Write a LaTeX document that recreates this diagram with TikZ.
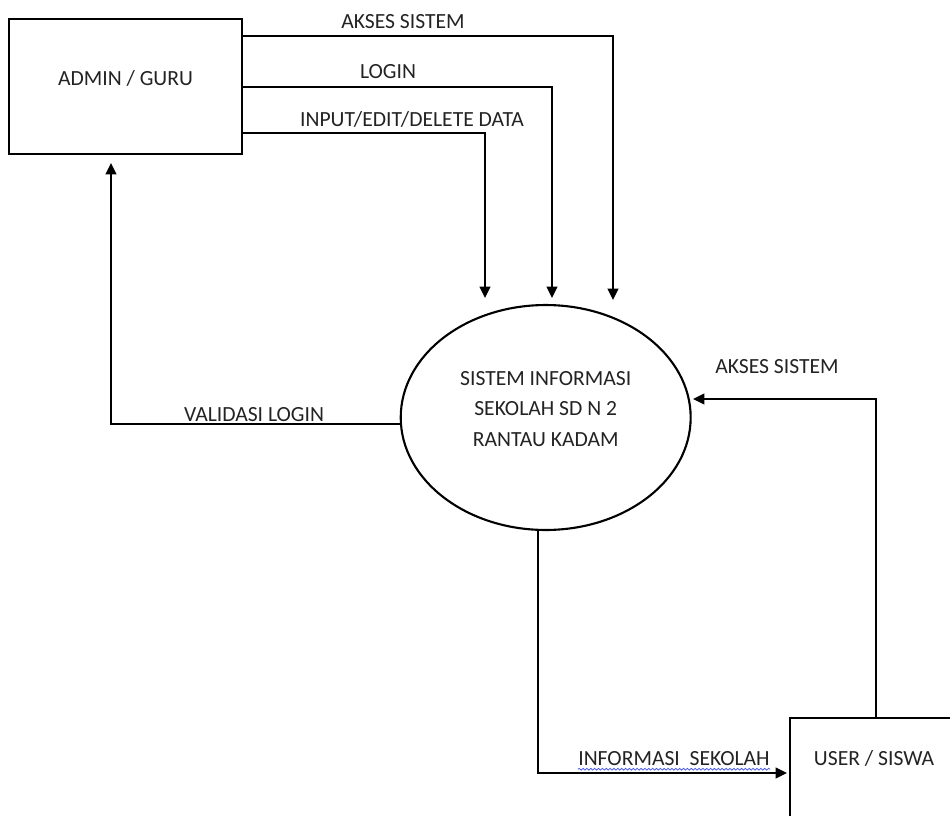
\documentclass[tikz,border=0pt]{standalone}
\usepackage{fontspec}
\setmainfont{Carlito}
\usetikzlibrary{positioning,arrows.meta,calc,shapes.geometric,decorations.pathmorphing}
\definecolor{dfdLine}{RGB}{0,0,0}
\definecolor{dfdText}{RGB}{35,35,35}
\definecolor{dfdSpell}{RGB}{70,90,230}

\begin{document}
\begin{tikzpicture}[x=0.02cm, y=-0.02cm,
  entity/.style={draw=dfdLine, line width=1.5pt, rectangle, inner sep=0pt},
  process/.style={draw=dfdLine, line width=1.2pt, ellipse, inner sep=0pt,
    minimum width=5.8cm, minimum height=4.5cm},
  flow/.style={draw=dfdLine, line width=1.5pt, -{Triangle[length=6.5pt,width=6pt]}},
  txt/.style={text=dfdText, font=\fontsize{12.3}{17.6}\selectfont, inner sep=0pt},
  spell/.style={draw=dfdSpell, line width=0.45pt, decorate,
    decoration={snake, amplitude=0.5pt, segment length=2.2pt}}]
  \useasboundingbox (0,0) rectangle (950,815);

  % Entities and process
  \node[entity, minimum width=4.66cm, minimum height=2.7cm] (admin) at (125.5,86.5) {};
  \node[txt, anchor=base] (adminText) at (125.5,85) {ADMIN / GURU};

  \node[process] (system) at (545.7,417.5) {};
  \node[txt, align=center] (systemText) at (545.7,409) {SISTEM INFORMASI\\SEKOLAH SD N 2\\RANTAU KADAM};

  \node[entity, minimum width=3.4cm, minimum height=2.2cm] (user) at (875,773) {};
  \node[txt, anchor=base] (userText) at (874,765.7) {USER / SISWA};

  % Arrow ends
  \coordinate (aksesIn) at (613,300);
  \coordinate (loginIn) at (552,298);
  \coordinate (inputIn) at (485,298);
  \coordinate (validIn) at (111,163);
  \coordinate (infoIn) at (787,773);
  \coordinate (userIn) at (693,399);

  % Flows from admin
  \draw[flow] (admin.east |- 0,36) -| (aksesIn);
  \draw[flow] (admin.east |- 0,87) -| (loginIn);
  \draw[flow] (admin.east |- 0,133) -| (inputIn);
  \node[txt, anchor=base] (lblAkses) at (403,28.3) {AKSES SISTEM};
  \node[txt, anchor=base] (lblLogin) at (388,78) {LOGIN};
  \node[txt, anchor=base] (lblInput) at (412,126.7) {INPUT/EDIT/DELETE DATA};

  % Flow back to admin
  \draw[flow] (system.west |- 0,424) -| (validIn);
  \node[txt, anchor=base] (lblValid) at (254,421.7) {VALIDASI LOGIN};

  % Flows with user
  \draw[flow] (system.south -| 538,0) |- (infoIn);
  \node[txt, anchor=base] (lblInfo) at (674,765.7) {INFORMASI\ \ SEKOLAH};
  \draw[spell] ([yshift=-2pt]lblInfo.base west) -- ([yshift=-2pt]lblInfo.base east);

  \draw[flow] (user.north -| 876,0) |- (userIn);
  \node[txt, anchor=base] (lblUser) at (777,373) {AKSES SISTEM};
\end{tikzpicture}
\end{document}
